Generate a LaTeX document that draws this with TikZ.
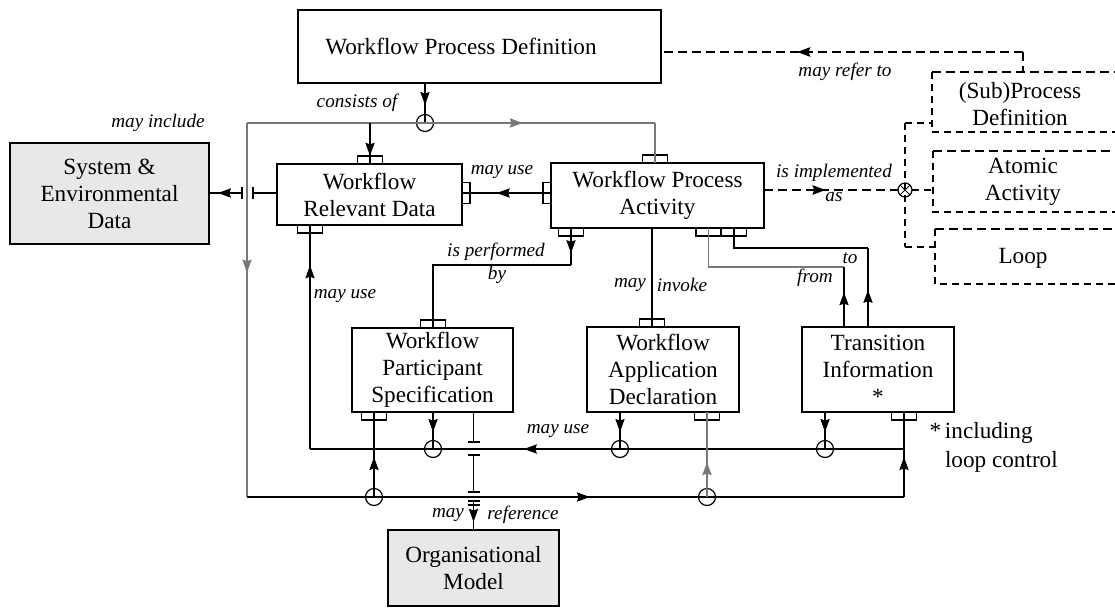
\documentclass[tikz,border=0pt]{standalone}
\usepackage{fontspec}
\setmainfont{Liberation Serif}
\usetikzlibrary{arrows.meta,decorations.markings}
\definecolor{boxgray}{RGB}{232,232,232}
\definecolor{linegray}{RGB}{120,120,120}
\begin{document}
\begin{tikzpicture}[x=0.5pt,y=-0.5pt,
  every node/.style={inner sep=0pt,outer sep=0pt},
  box/.style={draw,line width=0.7pt,align=center,font=\fontsize{11.6}{13.5}\selectfont},
  shaded/.style={box,fill=boxgray},
  txt/.style={align=center,font=\fontsize{11.6}{13.5}\selectfont},
  lbl/.style={font=\fontsize{9.6}{11}\selectfont\itshape},
  tport/.style={draw,line width=0.6pt,minimum width=12.5pt,minimum height=4pt},
  sport/.style={draw,line width=0.6pt,minimum width=4pt,minimum height=10.5pt},
  jn/.style={circle,draw,line width=0.6pt,minimum size=8.5pt},
  xjn/.style={circle,draw,line width=0.6pt,minimum size=7pt,
    path picture={\draw[line width=0.5pt]
      (path picture bounding box.north west) -- (path picture bounding box.south east)
      (path picture bounding box.north east) -- (path picture bounding box.south west);}},
  ln/.style={line width=0.7pt},
  gln/.style={line width=0.7pt,draw=linegray},
  bold dash/.style={line width=1.3pt,dash pattern=on 4.5pt off 2.5pt},
  thin dash/.style={line width=0.6pt,dash pattern=on 3.5pt off 2.5pt},
  tipat/.style={postaction={decorate},decoration={markings,
    mark=at position #1 with {\pgfsetdash{}{0pt}\arrow{Stealth[length=6.5pt,width=4.6pt,inset=0.8pt]}}}},
]
\useasboundingbox (0,0) rectangle (1115,612);
\clip (0,0) rectangle (1115,612);

% ---- main boxes
\node[box,minimum width=181.5pt,minimum height=36.5pt] (wpd) at (479.5,46.5) {};
\node[txt] at (461,47) {Workflow Process Definition};
\node[shaded,minimum width=99.5pt,minimum height=50.5pt] (sys) at (109.5,193.5) {System \&\\Environmental\\Data};
\node[box,minimum width=92.5pt,minimum height=30.5pt] (wrd) at (369.5,194.5) {Workflow\\Relevant Data};
\node[box,minimum width=106.5pt,minimum height=32.5pt] (wpa) at (657.5,195.5) {Workflow Process\\Activity};
\node[box,minimum width=80.5pt,minimum height=42pt] (wps) at (432.5,370) {Workflow\\Participant\\Specification};
\node[box,minimum width=76pt,minimum height=42.5pt] (wad) at (663,369.5) {Workflow\\Application\\Declaration};
\node[box,minimum width=76pt,minimum height=42.5pt] (ti) at (878,369.5) {Transition\\Information\\*};
\node[shaded,minimum width=85.5pt,minimum height=38pt] (om) at (473.5,568) {Organisational\\Model};

% ---- dashed alternatives (open to the right)
\node[minimum width=96.5pt,minimum height=30pt] (sp) at (1028.5,102) {};
\node[minimum width=96pt,minimum height=30.5pt] (aa) at (1029,181.5) {};
\node[minimum width=95pt,minimum height=27.5pt] (lp) at (1030,256.5) {};
\foreach \b in {sp,aa,lp}{
  \draw[bold dash] (\b.north west) -- (\b.north east);
  \draw[thin dash] (\b.north west) -- (\b.south west) -- (\b.south east);
}
\node[txt] at (1020,104) {(Sub)Process\\Definition};
\node[txt] at (1023,182) {Atomic\\Activity};
\node[txt] at (1023,258) {Loop};

% ---- ports
\node[tport] (wrdT) at (370,160) {};
\node[tport] (wpaT) at (655,159) {};
\node[tport] (wpsT) at (433,324) {};
\node[tport] (wadT) at (652,323) {};
\node[tport] (wrdB) at (310,229) {};
\node[tport] (wpaB1) at (571,232) {};
\node[tport] (wpaB2) at (708.5,232) {};
\node[tport] (wpaB3) at (734,232) {};
\node[tport] (wpsB) at (374,416) {};
\node[tport] (wadB) at (707,416) {};
\node[tport] (tiB) at (904,416) {};
\node[sport] (wrdR) at (466,193) {};
\node[sport] (wpaL) at (547,193) {};

% ---- junction circles
\node[jn] (c1) at (425,123) {};
\node[jn] (c2) at (433,449) {};
\node[jn] (c3) at (620,449) {};
\node[jn] (c4) at (825,449) {};
\node[jn] (c5) at (374,497) {};
\node[jn] (c6) at (707,497) {};
\node[xjn] (ox) at (905,190) {};

% ---- bend points
\coordinate (tl0) at (247,123);
\coordinate (tl1) at (655,123);
\coordinate (bl0) at (247,497);
\coordinate (bl1) at (904,497);
\coordinate (m0) at (310,449);
\coordinate (m1) at (904,449);
\coordinate (p0) at (571,265);
\coordinate (p1) at (433,265);
\coordinate (f0) at (708.5,267);
\coordinate (f1) at (844,267);
\coordinate (t0) at (734,248);
\coordinate (t1) at (868,248);
\coordinate (jb0) at (242,193);
\coordinate (jb1) at (253,193);
\coordinate (ob1) at (473.5,442);
\coordinate (ob2) at (473.5,455);
\coordinate (ob3) at (473.5,492);
\coordinate (ob4) at (473.5,501);
\coordinate (ob5) at (473.5,505);
\coordinate (dr) at (1023,52);
\coordinate (d0) at (905,123);
\coordinate (d1) at (905,247);

% ---- connectors
% consists of
\draw[ln,tipat=0.55] (c1 |- wpd.south) -- (c1.center);
% outer loop
\draw[gln] (wpaT.south) -- (tl1);
\draw[gln,tipat=0.676] (tl0) -- (tl1);
\draw[gln,tipat=0.40] (tl0) -- (bl0);
\draw[ln,tipat=0.522] (bl0) -- (bl1);
\draw[ln,tipat=0.47] (bl1) -- (tiB.north);
\draw[ln,tipat=0.80] (c1 -| wrdT) -- (wrdT.south);
% may include
\draw[ln] (jb1 -| wrd.west) -- (jb1);
\draw[ln] ([yshift=3pt]jb1) -- ([yshift=-3pt]jb1);
\draw[ln] ([yshift=3pt]jb0) -- ([yshift=-3pt]jb0);
\draw[ln,tipat=0.73] (jb0) -- (jb0 -| sys.east);
% may use (activity -> relevant data)
\draw[ln,tipat=0.61] (wpaL.east) -- (wrdR.west);
% is performed by
\draw[ln,tipat=0.68] (wpaB1.north) -- (p0);
\draw[ln] (p0) -- (p1) -- (wpsT.south);
% may invoke
\draw[ln] (wpa.south -| wadT) -- (wadT.south);
% from / to
\draw[gln] (wpaB2.north) -- (f0) -- (f1);
\draw[ln,tipat=0.58] (ti.north -| f1) -- (f1);
\draw[ln] (wpaB3.north) -- (t0) -- (t1);
\draw[ln,tipat=0.47] (ti.north -| t1) -- (t1);
% may use (relevant data)
\draw[ln,tipat=0.82] (m0) -- (wrdB.north);
\draw[ln,tipat=0.64] (m1) -- (m0);
\draw[ln,tipat=0.54] (c2 |- wps.south) -- (c2.center);
\draw[ln,tipat=0.54] (c3 |- wad.south) -- (c3.center);
\draw[ln,tipat=0.54] (c4 |- ti.south) -- (c4.center);
\draw[ln,tipat=0.47] (c5.center) -- (wpsB.north);
\draw[gln,tipat=0.41] (c6.center) -- (wadB.north);
% may reference
\draw[ln] (om.north |- wps.south) -- (ob1);
\draw[ln] (ob2) -- (ob3);
\draw[ln,tipat=0.72] (ob4) -- (om.north);
\foreach \p in {ob1,ob2,ob3,ob4,ob5}
  \draw[ln] ([xshift=-3pt]\p) -- ([xshift=3pt]\p);
% may refer to
\draw[bold dash,tipat=0.624] (dr) -- (wpd.east |- dr);
\draw[bold dash] (dr) -- (dr |- sp.north);
% is implemented as
\draw[bold dash,tipat=0.46] (wpa.east |- ox) -- (ox.west);
\draw[thin dash] (d0) -- (d1);
\draw[thin dash] (d0) -- (d0 -| sp.west);
\draw[thin dash] (ox.east) -- (ox -| aa.west);
\draw[thin dash] (d1) -- (d1 -| lp.west);

% ---- labels
\node[lbl] at (158,123) {may include};
\node[lbl] at (357,103) {consists of};
\node[lbl] at (502,172) {may use};
\node[lbl] at (845,72) {may refer to};
\node[lbl] at (834,173) {is implemented};
\node[lbl] at (834,197) {as};
\node[lbl] at (496,252) {is performed};
\node[lbl] at (497,275) {by};
\node[lbl] at (345,296) {may use};
\node[lbl] at (630,285) {may};
\node[lbl] at (682,285) {invoke};
\node[lbl] at (850,258) {to};
\node[lbl] at (815,278) {from};
\node[lbl] at (558,431) {may use};
\node[lbl] at (448,515) {may};
\node[lbl] at (523,515) {reference};
\node[anchor=west,align=left,font=\fontsize{11.6}{14.5}\selectfont] at (945,447.5) {\llap{*\,}including\\loop control};
\end{tikzpicture}
\end{document}
